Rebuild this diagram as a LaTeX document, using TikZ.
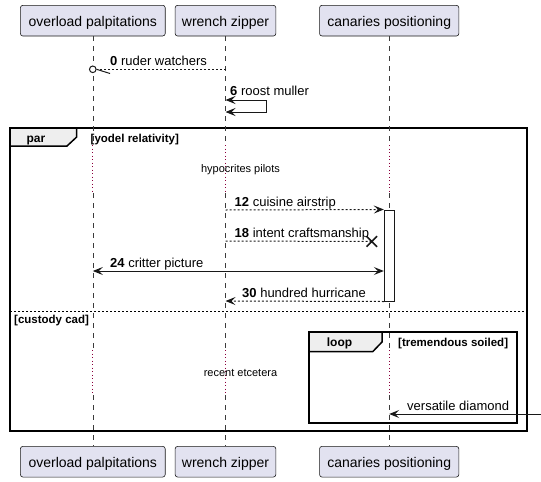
\documentclass[tikz,border=0pt]{standalone}
\usepackage{fontspec}
\setmainfont{Liberation Sans}
\usetikzlibrary{arrows.meta,shapes.misc}
\definecolor{pfill}{RGB}{226,226,240}
\definecolor{pline}{RGB}{24,24,24}
\definecolor{tabfill}{RGB}{238,238,238}
\definecolor{delayred}{RGB}{140,0,60}
\begin{document}
\begin{tikzpicture}[x=1pt,y=-1pt,
  >={Stealth[length=10pt,width=8pt,inset=4pt]},
  part/.style={draw=pline, line width=0.6pt, fill=pfill, rounded corners=2.5pt,
    minimum height=30.7pt, inner sep=0pt, text height=12pt, text depth=0pt,
    font=\fontsize{14}{16}\selectfont},
  life/.style={draw=pline!85, line width=0.6pt, dash pattern=on 5pt off 5pt},
  delay/.style={draw=delayred, line width=1pt, dash pattern=on 1pt off 2.5pt},
  msg/.style={draw=pline, line width=1pt},
  dmsg/.style={msg, dash pattern=on 2pt off 2pt},
  lbl/.style={anchor=base west, inner sep=0pt, font=\fontsize{13}{15}\selectfont},
  dtext/.style={anchor=base, inner sep=0pt, font=\fontsize{11}{13}\selectfont},
  frm/.style={draw=black, line width=1.5pt},
  tabshape/.style={draw=black, line width=1.5pt, fill=tabfill},
  guard/.style={anchor=base west, inner sep=0pt, font=\bfseries\fontsize{11.5}{13}\selectfont},
  tabtext/.style={anchor=base, inner sep=0pt, font=\bfseries\fontsize{12}{14}\selectfont}
]
\useasboundingbox (0,0) rectangle (541,482);
\def\xa{92.8}
\def\xb{225.5}
\def\xc{389.2}

% ---------- frames ----------
\draw[frm] (10,128) rectangle (527,431);
\draw[tabshape] (10,128) -- (76.7,128) -- (76.7,137) -- (67,146) -- (10,146) -- cycle;
\node[tabtext] (tpar) at (36,142.5) {par};
\node[guard] (g1) at (90.5,142.5) {[yodel relativity]};
\draw[draw=black, line width=1pt, dash pattern=on 2pt off 2pt] (10,311) -- (527,311);
\node[guard] (g2) at (14,323.5) {[custody cad]};
\draw[frm] (309,332) rectangle (517,423);
\draw[tabshape] (309,332) -- (382,332) -- (382,342) -- (372.7,351.7) -- (309,351.7) -- cycle;
\node[tabtext] (tloop) at (339.5,346.5) {loop};
\node[guard] (g3) at (398,346) {[tremendous soiled]};

% ---------- participants ----------
\node[part, minimum width=144.8pt] (pAt) at (\xa,20.65) {overload palpitations};
\node[part, minimum width=100.7pt] (pBt) at (\xb,20.65) {wrench zipper};
\node[part, minimum width=139.3pt] (pCt) at (\xc,20.65) {canaries positioning};
\node[part, minimum width=144.8pt] (pAb) at (\xa,461.7) {overload palpitations};
\node[part, minimum width=100.7pt] (pBb) at (\xb,461.7) {wrench zipper};
\node[part, minimum width=139.3pt] (pCb) at (\xc,461.7) {canaries positioning};

% ---------- lifelines ----------
\foreach \p/\x in {A/\xa,B/\xb,C/\xc}{
  \coordinate (\p1) at (\x,145);
  \coordinate (\p2) at (\x,193);
  \coordinate (\p3) at (\x,350);
  \coordinate (\p4) at (\x,395);
  \draw[life] (p\p t.south) -- (\p1);
  \draw[delay] (\p1) -- (\p2);
  \draw[life] (\p2) -- (\p3);
  \draw[delay] (\p3) -- (\p4);
  \draw[life] (\p4) -- (p\p b.north);
}

% ---------- activation ----------
\node[draw=pline, fill=white, line width=1pt, minimum width=10.2pt, minimum height=91pt,
  inner sep=0pt] (act) at (389.4,255.5) {};

% ---------- message 0 ----------
\coordinate (m0s) at (\xb,69.3);
\node[circle, draw=pline, line width=1pt, fill=white, minimum size=6.6pt, inner sep=0pt] (m0c) at (\xa,69.3) {};
\coordinate (m0b) at (110,73.5);
\draw[dmsg] (m0s) -- (m0c.east);
\draw[msg] (m0c.east) -- (m0b);
\node[lbl] (t0) at (110,65.3) {\textbf{0} ruder watchers};

% ---------- message 6 (self) ----------
\coordinate (m6a) at (\xb,100);
\coordinate (m6b) at (266.7,100);
\coordinate (m6c) at (266.7,112);
\coordinate (m6d) at (\xb,112);
\draw[msg,<->] (m6a) -- (m6b) -- (m6c) -- (m6d);
\node[lbl] (t6) at (230,95.5) {\textbf{6} roost muller};

% ---------- delay 1 ----------
\node[dtext] (d1) at (240.5,172) {hypocrites pilots};

% ---------- message 12 ----------
\coordinate (m12s) at (\xb,210);
\coordinate (m12e) at (act.north west);
\draw[dmsg,->] (m12s) -- (m12e);
\node[lbl] (t12) at (234.5,206) {\textbf{12} cuisine airstrip};

% ---------- message 18 ----------
\coordinate (m18s) at (\xb,241);
\node[cross out, draw=pline, line width=1.5pt, minimum size=9pt, inner sep=0pt] (x18) at (371.8,241.5) {};
\draw[dmsg] (m18s) -- (x18.center);
\node[lbl] (t18) at (234.5,237) {\textbf{18} intent craftsmanship};

% ---------- message 24 ----------
\coordinate (m24s) at (\xa,271);
\coordinate (m24e) at (act.west |- m24s);
\draw[msg,<->] (m24s) -- (m24e);
\node[lbl] (t24) at (110,267) {\textbf{24} critter picture};

% ---------- message 30 ----------
\coordinate (m30s) at (act.south west);
\coordinate (m30e) at (\xb,301);
\draw[dmsg,->] (m30s) -- (m30e);
\node[lbl] (t30) at (242,297) {\textbf{30} hundred hurricane};

% ---------- delay 2 ----------
\node[dtext] (d2) at (240.5,376) {recent etcetera};

% ---------- versatile diamond ----------
\coordinate (vs) at (541,414);
\coordinate (ve) at (\xc,414);
\draw[msg,->] (vs) -- (ve);
\node[lbl] (tv) at (407,410.5) {versatile diamond};
\end{tikzpicture}
\end{document}
